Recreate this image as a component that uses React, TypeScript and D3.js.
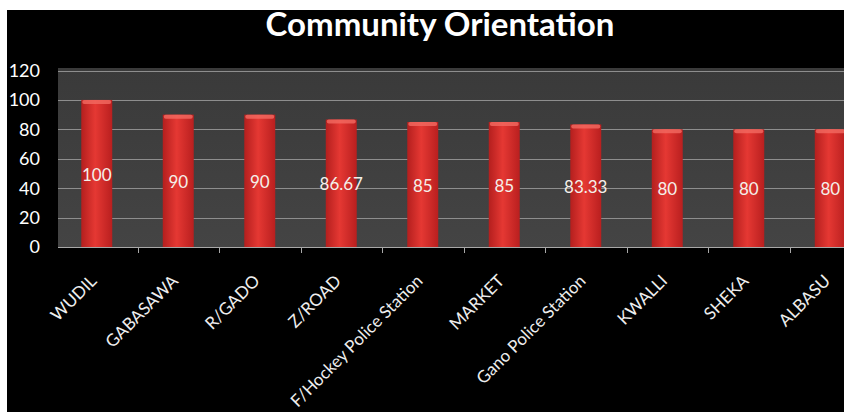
import { useEffect, useRef } from "react";
import * as d3 from "d3";

const categories = [
  "WUDIL",
  "GABASAWA",
  "R/GADO",
  "Z/ROAD",
  "F/Hockey Police Station",
  "MARKET",
  "Gano Police Station",
  "KWALLI",
  "SHEKA",
  "ALBASU",
];
const values = [100, 90, 90, 86.67, 85, 85, 83.33, 80, 80, 80];
const yTicks = [0, 20, 40, 60, 80, 100, 120];
const title = "Community Orientation";

const W = 844;
const H = 412;

export default function App() {
  const ref = useRef<SVGSVGElement>(null);

  useEffect(() => {
    if (!ref.current) return;
    const root = d3.select(ref.current);
    root.selectAll("*").remove();
    root.attr("width", W).attr("height", H);

    const defs = root.append("defs");
    const barGrad = defs
      .append("linearGradient")
      .attr("id", "barGrad")
      .attr("x1", "0%")
      .attr("x2", "100%")
      .attr("y1", "0%")
      .attr("y2", "0%");
    barGrad.append("stop").attr("offset", "0%").attr("stop-color", "#b41f1e");
    barGrad.append("stop").attr("offset", "45%").attr("stop-color", "#e53833");
    barGrad.append("stop").attr("offset", "100%").attr("stop-color", "#b91f1f");

    const plotGrad = defs
      .append("linearGradient")
      .attr("id", "plotGrad")
      .attr("x1", "0%")
      .attr("x2", "0%")
      .attr("y1", "0%")
      .attr("y2", "100%");
    plotGrad.append("stop").attr("offset", "0%").attr("stop-color", "#3a3a3a");
    plotGrad.append("stop").attr("offset", "100%").attr("stop-color", "#444444");

    // page + black chart panel
    root.append("rect").attr("width", W).attr("height", H).attr("fill", "#ffffff");
    root
      .append("rect")
      .attr("x", 7)
      .attr("y", 10)
      .attr("width", W - 7)
      .attr("height", H - 10)
      .attr("fill", "#000000");

    const plotLeft = 58;
    const plotTop = 68;
    const y = d3.scaleLinear().domain([0, 120]).range([247, 70.5]);
    const x = d3
      .scaleBand()
      .domain(categories)
      .range([56, 871])
      .paddingInner(0.62)
      .paddingOuter(0.31);

    // plot area
    root
      .append("rect")
      .attr("x", plotLeft)
      .attr("y", plotTop)
      .attr("width", W - plotLeft)
      .attr("height", y(0) - plotTop)
      .attr("fill", "url(#plotGrad)");

    // gridlines
    root
      .append("g")
      .selectAll("line")
      .data(yTicks.filter((t) => t > 0))
      .enter()
      .append("line")
      .attr("x1", plotLeft)
      .attr("x2", W)
      .attr("y1", (d) => Math.round(y(d)) + 0.5)
      .attr("y2", (d) => Math.round(y(d)) + 0.5)
      .attr("stroke", "#8e8e8e")
      .attr("stroke-width", 1);

    // y tick labels
    root
      .append("g")
      .selectAll("text")
      .data(yTicks)
      .enter()
      .append("text")
      .attr("x", 40)
      .attr("y", (d) => y(d))
      .attr("dy", "0.36em")
      .attr("text-anchor", "end")
      .attr("fill", "#ffffff")
      .style("font-family", "Lato, sans-serif")
      .style("font-size", "18px")
      .text((d) => d);

    // bars
    const bars = root.append("g");
    bars
      .selectAll("rect.bar")
      .data(values)
      .enter()
      .append("rect")
      .attr("class", "bar")
      .attr("x", (_d, i) => x(categories[i]) ?? 0)
      .attr("y", (d) => y(d))
      .attr("width", x.bandwidth())
      .attr("height", (d) => y(0) - y(d))
      .attr("fill", "url(#barGrad)");
    bars
      .selectAll("rect.cap")
      .data(values)
      .enter()
      .append("rect")
      .attr("class", "cap")
      .attr("x", (_d, i) => (x(categories[i]) ?? 0) + 1)
      .attr("y", (d) => y(d))
      .attr("width", x.bandwidth() - 2)
      .attr("height", 4)
      .attr("rx", 2)
      .attr("fill", "#f26a62")
      .attr("opacity", 0.8);

    // value labels
    root
      .append("g")
      .selectAll("text")
      .data(values)
      .enter()
      .append("text")
      .attr("x", (_d, i) => (x(categories[i]) ?? 0) + x.bandwidth() / 2)
      .attr("y", (d) => y(d / 2) + 1)
      .attr("dy", "0.36em")
      .attr("text-anchor", "middle")
      .attr("fill", "#f4f0ea")
      .style("font-family", "Lato, sans-serif")
      .style("font-size", "17px")
      .text((d) => d);

    // x axis line + ticks
    const axis = root.append("g");
    axis
      .append("line")
      .attr("x1", plotLeft)
      .attr("x2", W)
      .attr("y1", 247.5)
      .attr("y2", 247.5)
      .attr("stroke", "#a8a8a8");
    const step = x.step();
    const bounds = d3.range(categories.length + 1).map((k) => 56 + k * step);
    axis
      .selectAll("line.tick")
      .data(bounds.filter((b) => b > plotLeft && b < W))
      .enter()
      .append("line")
      .attr("class", "tick")
      .attr("x1", (d) => Math.round(d) + 0.5)
      .attr("x2", (d) => Math.round(d) + 0.5)
      .attr("y1", 247)
      .attr("y2", 253)
      .attr("stroke", "#a8a8a8");

    // category labels
    root
      .append("g")
      .selectAll("text")
      .data(categories)
      .enter()
      .append("text")
      .attr("transform", (d) => {
        const cx = (x(d) ?? 0) + x.bandwidth() / 2 + 1;
        return `translate(${cx},282) rotate(-45)`;
      })
      .attr("text-anchor", "end")
      .attr("fill", "#eeeeee")
      .style("font-family", "Lato, sans-serif")
      .style("font-size", "17px")
      .text((d) => d);

    // title
    root
      .append("text")
      .attr("x", 440)
      .attr("y", 36)
      .attr("text-anchor", "middle")
      .attr("fill", "#ffffff")
      .style("font-family", "Lato, sans-serif")
      .style("font-weight", "bold")
      .style("font-size", "33px")
      .text(title);
  }, []);

  return <svg ref={ref} style={{ position: "absolute", left: 0, top: 0 }} />;
}
